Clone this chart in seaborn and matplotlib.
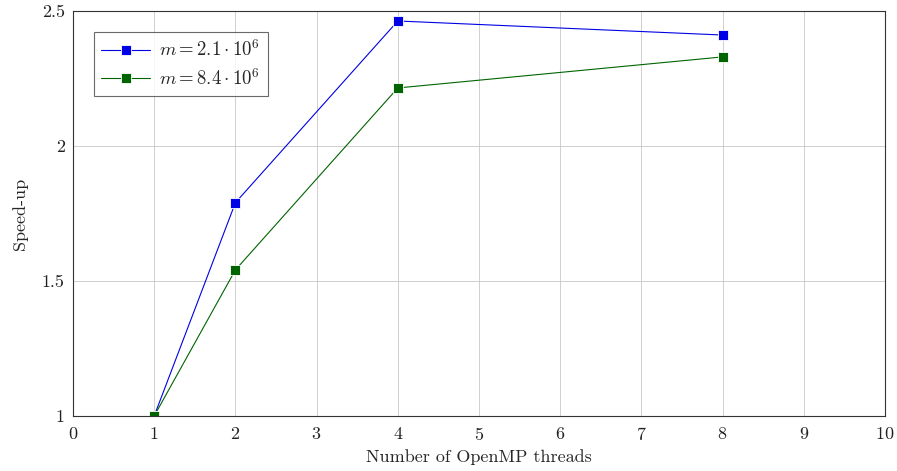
import pandas as pd
import matplotlib
matplotlib.use('Agg')
import matplotlib.pyplot as plt
import seaborn as sns

# speed-up data
threads = [1, 2, 4, 8]
speedup_21 = [1.0, 1.79, 2.463, 2.411]
speedup_84 = [1.0, 1.541, 2.215, 2.33]
labels = [r'$m = 2.1 \cdot 10^6$', r'$m = 8.4 \cdot 10^6$']

df = pd.DataFrame({
    'threads': threads * 2,
    'speedup': speedup_21 + speedup_84,
    'series': [labels[0]] * 4 + [labels[1]] * 4,
})

sns.set_style('white')
plt.rcParams['font.family'] = ['cmr10', 'DejaVu Serif']
plt.rcParams['mathtext.fontset'] = 'cm'
plt.rcParams['axes.formatter.use_mathtext'] = True

fig = plt.figure(figsize=(8.97, 4.71), dpi=100)
ax = fig.add_axes([73/897, 1 - 416/471, (885-73)/897, (416-11)/471])

sns.lineplot(data=df, x='threads', y='speedup', hue='series', style='series',
             markers=['s', 's'], dashes=False, palette=['#0000e6', '#006400'],
             markersize=7, linewidth=0.8, markeredgewidth=0.6, ax=ax)

ax.set_xlim(0, 10)
ax.set_ylim(1, 2.5)
ax.set_xticks(range(0, 11))
ax.set_yticks([1, 1.5, 2, 2.5])
ax.set_yticklabels(['1', '1.5', '2', '2.5'])
ax.grid(True, color='#c8c8c8', linewidth=0.6)
ax.set_axisbelow(True)
for s in ax.spines.values():
    s.set_color('#333333')
    s.set_linewidth(0.8)
ax.tick_params(direction='in', length=3, labelsize=13, colors='#222222')
ax.tick_params(axis='x', pad=7)
ax.tick_params(axis='y', pad=6)
ax.set_xlabel('Number of OpenMP threads', fontsize=13, labelpad=5)
ax.set_ylabel('Speed-up', fontsize=13, labelpad=10)

leg = ax.legend(loc='upper left', fontsize=13.5, frameon=True, fancybox=False,
                edgecolor='#444444', borderaxespad=1.1, handlelength=2.6,
                borderpad=0.4, labelspacing=0.4, handletextpad=0.5)
leg.get_frame().set_linewidth(0.8)

fig.savefig('out.png', dpi=100)
